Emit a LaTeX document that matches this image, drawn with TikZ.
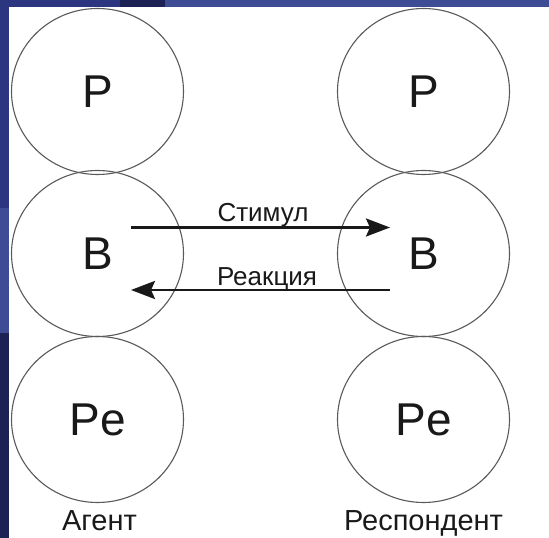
\documentclass[tikz,border=0pt]{standalone}
\usepackage{fontspec}
\setmainfont{Liberation Sans}
\usetikzlibrary{shapes.geometric,arrows.meta}
\definecolor{bgblue}{RGB}{44,54,128}
\definecolor{bgdark}{RGB}{28,34,84}
\definecolor{bglight}{RGB}{62,76,150}
\definecolor{ringgrey}{RGB}{90,90,90}
\definecolor{inkblack}{RGB}{25,25,25}
\tikzset{
  ring/.style={draw=ringgrey, line width=1.1pt, ellipse, minimum width=172pt, minimum height=166pt, inner sep=0pt,
    font=\fontsize{46}{46}\selectfont, text=inkblack},
  lbl/.style={font=\fontsize{26}{27}\selectfont, text=inkblack, inner sep=0pt},
  captxt/.style={font=\fontsize{29}{30}\selectfont, text=inkblack, inner sep=0pt},
  flow/.style={line width=2.8pt, draw=inkblack, -{Stealth[length=24pt,width=18pt,inset=4pt]}}
}
\begin{document}
\begin{tikzpicture}[x=1pt,y=1pt]
\useasboundingbox (0,0) rectangle (549,538);
% background
\fill[bgblue] (0,0) rectangle (549,538);
\fill[bgdark] (0,0) rectangle (9,205);
\fill[bglight] (0,205) rectangle (9,330);
\fill[bgdark] (120,530) rectangle (165,538);
\fill[bglight] (165,530) rectangle (549,538);
\fill[white] (9,0) rectangle (549,530.5);
% circles
\node[ring] (pl) at (97.5,446.5) {P};
\node[ring] (bl) at (97.5,284.5) {B};
\node[ring] (rl) at (97.5,118.5) {Pe};
\node[ring] (pr) at (423.5,446.5) {P};
\node[ring] (br) at (423.5,284.5) {B};
\node[ring] (rr) at (423.5,118.5) {Pe};
% arrows
\coordinate (s1) at (131,310.5);
\coordinate (s2) at (390,310.5);
\coordinate (r1) at (390,248);
\coordinate (r2) at (131,248);
\draw[flow] (s1) -- (s2);
\draw[flow] (r1) -- (r2);
\node[lbl, anchor=base] (stim) at (263,316) {Стимул};
\node[lbl, anchor=base] (reak) at (267,252) {Реакция};
% captions
\node[captxt, anchor=base] (agent) at (99.5,7) {Агент};
\node[captxt, anchor=base] (resp) at (423.5,7) {Респондент};
\end{tikzpicture}
\end{document}
